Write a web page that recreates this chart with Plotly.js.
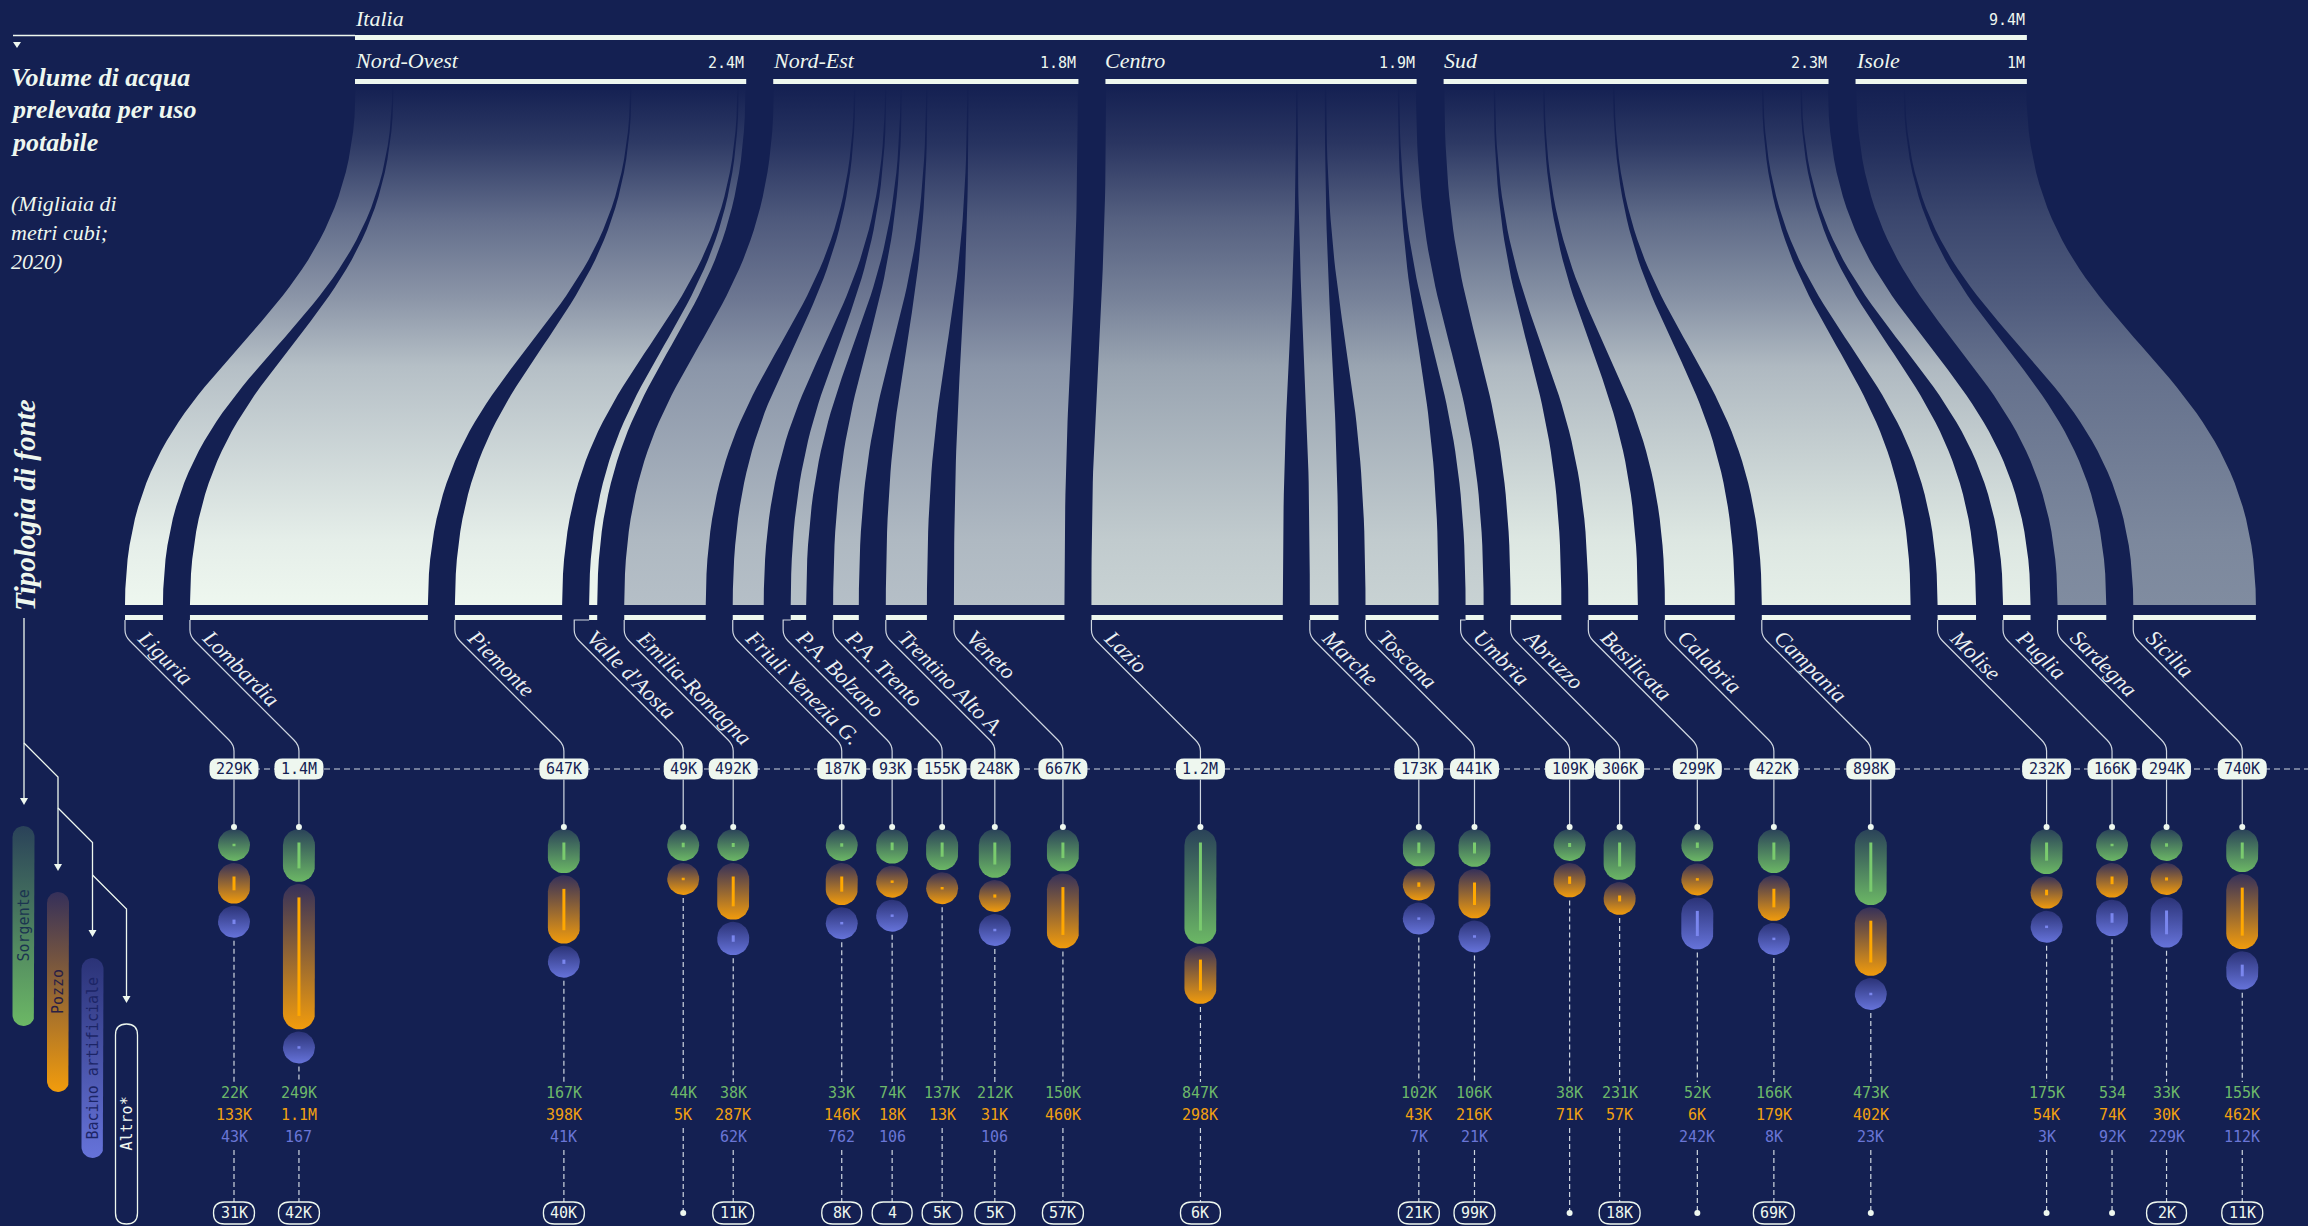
<!DOCTYPE html>
<html>
<head>
<meta charset="utf-8">
<script src="https://cdn.plot.ly/plotly-3.0.1.min.js"></script>
<style>
html,body{margin:0;padding:0;background:#142052;overflow:hidden;}
#chart{width:2308px;height:1226px;}
</style>
</head>
<body>
<div id="chart"></div>
<script>
// ---------------- DATA (migliaia di m3, 2020) ----------------
const regions = ['Liguria','Lombardia','Piemonte',"Valle d'Aosta",'Emilia-Romagna','Friuli Venezia G.','P.A. Bolzano','P.A. Trento','Trentino Alto A.','Veneto','Lazio','Marche','Toscana','Umbria','Abruzzo','Basilicata','Calabria','Campania','Molise','Puglia','Sardegna','Sicilia'];
const areaNames = ['Nord-Ovest','Nord-Est','Centro','Sud','Isole'];
const regionArea = [0,0,0,0,1,1,1,1,1,1,2,2,2,2,3,3,3,3,3,3,4,4];
const totals   = [229,1436,647,49,492,187,93,155,248,667,1155,173,441,109,306,299,422,898,232,166,294,740];
const sorgente = [22,249,167,44,38,33,74,137,212,150,847,102,106,38,231,52,166,473,175,0.534,33,155];
const pozzo    = [133,1140,398,5,287,146,18,13,31,460,298,43,216,71,57,6,179,402,54,74,30,462];
const bacino   = [43,0.167,41,0,62,0.762,0.106,0,0.106,0,0,7,21,0,0,242,8,23,3,92,229,112];
const altro    = [31,42,40,0,11,8,0.004,5,5,57,6,21,99,0,18,0,69,0,0,0,2,11];
const sourceLabels = ['Sorgente','Pozzo','Bacino artificiale','Altro*'];
const countryName = 'Italia';
const titleLines = ['Volume di acqua','prelevata per uso','potabile'];
const subtitleLines = ['(Migliaia di','metri cubi;','2020)'];
const legendTitle = 'Tipologia di fonte';

// ---------------- STYLE ----------------
const BG = '#142052';
const LIGHT = '#eef7ef';
const LINEC = '#cfd6e0';
const SERIF = 'Liberation Serif, DejaVu Serif, serif';
const MONO = 'DejaVu Sans Mono, Liberation Mono, monospace';
const areaColors = ['#eef7ef','#b5bfc7','#c8d2d3','#e5efe8','#808ca0'];
const capTop = ['#2a4259','#35305a','#2b3377'];
const capBot = ['#6cb865','#f29c0c','#6673da'];
const lineCol = ['#7acb6e','#ffa800','#7a86ee'];
const valCol = ['#6db86a','#f2a010','#6a76d6'];

const SCALE = 0.1657, GAP = 27;
const BOTTOM_X0 = 125, TOP_X0 = 355;
const RIB_TOP = 86, RIB_BOT = 605, Y_BB0 = 615, Y_BB = 620;
const Y_PILL = 769, Y_STACK = 829, Y_VALS = [1093,1115,1137], Y_ALTRO = 1213;
const OFF = 109, MINSEP = 50;

function fmt(v){
  if (v < 1) return String(Math.round(v*1000));
  if (v < 1000) return Math.round(v) + 'K';
  return (v/1000).toFixed(1).replace(/\.0$/,'') + 'M';
}
function hex2rgb(h){ h=h.replace('#',''); return [0,2,4].map(i=>parseInt(h.substr(i,2),16)); }
function mix(a,b,t){ const A=hex2rgb(a),B=hex2rgb(b); return 'rgb('+A.map((v,i)=>Math.round(v+(B[i]-v)*t)).join(',')+')'; }
function rrect(cx,cy,w,h,r){
  const x0=cx-w/2,x1=cx+w/2,y0=cy-h/2,y1=cy+h/2;
  return `M${x0+r},${y0} L${x1-r},${y0} Q${x1},${y0} ${x1},${y0+r} L${x1},${y1-r} Q${x1},${y1} ${x1-r},${y1} L${x0+r},${y1} Q${x0},${y1} ${x0},${y1-r} L${x0},${y0+r} Q${x0},${y0} ${x0+r},${y0} Z`;
}
function capsulePts(cx,y0,w,h){
  const r=w/2, xs=[], ys=[], yt=y0+r, yb=y0+h-r;
  for(let j=0;j<=18;j++){const a=Math.PI+Math.PI*j/18; xs.push(cx+r*Math.cos(a)); ys.push(yt+r*Math.sin(a));}
  for(let j=0;j<=18;j++){const a=Math.PI*j/18; xs.push(cx+r*Math.cos(a)); ys.push(yb+r*Math.sin(a));}
  xs.push(xs[0]); ys.push(ys[0]);
  return {xs,ys};
}

const n = regions.length;
const traces = [], shapes = [], ann = [];
function text(x,y,t,o){ ann.push(Object.assign({x,y,text:t,showarrow:false,xref:'x',yref:'y'},o)); }
function line(x0,y0,x1,y1,color,width,dash){ shapes.push({type:'line',xref:'x',yref:'y',x0,y0,x1,y1,line:{color,width,dash:dash||'solid'}}); }
function dot(x,y,r,color){ shapes.push({type:'circle',xref:'x',yref:'y',x0:x-r,x1:x+r,y0:y-r,y1:y+r,fillcolor:color,line:{width:0}}); }
function rect(x0,x1,y0,y1,color){ shapes.push({type:'rect',xref:'x',yref:'y',x0,x1,y0,y1,fillcolor:color,line:{width:0}}); }
function pathShape(p,fill,lc,lw){ shapes.push({type:'path',xref:'x',yref:'y',path:p,fillcolor:fill||'rgba(0,0,0,0)',line:{color:lc||'rgba(0,0,0,0)',width:lw||0}}); }

// ---------------- POSITIONS from values ----------------
const barLeft=[], barRight=[];
let cx = BOTTOM_X0;
for(let i=0;i<n;i++){ barLeft[i]=cx; barRight[i]=cx+totals[i]*SCALE; cx=barRight[i]+GAP; }
const areaTotals = areaNames.map((a,k)=>totals.reduce((s,v,i)=>s+(regionArea[i]===k?v:0),0));
const areaLeft=[], areaRight=[];
let tx = TOP_X0;
for(let k=0;k<areaNames.length;k++){ areaLeft[k]=tx; areaRight[k]=tx+areaTotals[k]*SCALE; tx=areaRight[k]+GAP; }
const topLeft=[], topRight=[], curTop=areaLeft.slice();
for(let i=0;i<n;i++){ const k=regionArea[i]; topLeft[i]=curTop[k]; topRight[i]=curTop[k]+totals[i]*SCALE; curTop[k]=topRight[i]; }
const leadX = barLeft.slice();
for(let i=n-2;i>=0;i--){ if(leadX[i] > leadX[i+1]-MINSEP) leadX[i] = leadX[i+1]-MINSEP; }
const colX = leadX.map(x=>x+OFF);

// ---------------- RIBBONS ----------------
const gStops = [[0,0],[0.11,0.12],[0.255,0.36],[0.41,0.55],[0.54,0.74],[0.875,0.96],[1,1]];
for(let i=0;i<n;i++){
  const xs=[], ys=[], N=48;
  const L0=topLeft[i]+0.7, L1=barLeft[i], R0=topRight[i]-0.7, R1=barRight[i];
  for(let j=0;j<=N;j++){ const t=j/N; xs.push(L0+(L1-L0)*(3*t*t-2*t*t*t)); ys.push(RIB_TOP+(RIB_BOT-RIB_TOP)*(1.5*t*(1-t)+t*t*t)); }
  for(let j=N;j>=0;j--){ const t=j/N; xs.push(R0+(R1-R0)*(3*t*t-2*t*t*t)); ys.push(RIB_TOP+(RIB_BOT-RIB_TOP)*(1.5*t*(1-t)+t*t*t)); }
  const col = areaColors[regionArea[i]];
  traces.push({type:'scatter',mode:'lines',x:xs,y:ys,fill:'toself',line:{width:0,color:'rgba(0,0,0,0)'},
    fillgradient:{type:'vertical',start:RIB_TOP,stop:RIB_BOT,colorscale:gStops.map(s=>[s[0],mix(BG,col,s[1])])},hoverinfo:'skip'});
  rect(barLeft[i],barRight[i],Y_BB0,Y_BB,LIGHT);
}

// ---------------- TOP BARS ----------------
rect(areaLeft[0],areaRight[areaNames.length-1],35,40,LIGHT);
line(13,35.5,areaLeft[0],35.5,LIGHT,1.3);
pathShape('M13,42 L21,42 L17,48 Z',LIGHT);
text(areaLeft[0]-2,18,countryName,{xanchor:'left',yanchor:'middle',font:{family:SERIF,size:22,style:'italic',color:LIGHT}});
text(areaRight[areaNames.length-1],20,fmt(areaTotals.reduce((a,b)=>a+b,0)),{xanchor:'right',yanchor:'middle',font:{family:MONO,size:15,color:LIGHT}});
for(let k=0;k<areaNames.length;k++){
  rect(areaLeft[k],areaRight[k],79,84,LIGHT);
  text(areaLeft[k]-2,60,areaNames[k],{xanchor:'left',yanchor:'middle',font:{family:SERIF,size:22,style:'italic',color:LIGHT}});
  text(areaRight[k],63,fmt(areaTotals[k]),{xanchor:'right',yanchor:'middle',font:{family:MONO,size:15,color:LIGHT}});
}

// ---------------- LEADERS, LABELS, PILLS ----------------
line(colX[0],Y_PILL,2308,Y_PILL,LINEC,1.2,'6px,4px');
for(let i=0;i<n;i++){
  const lx=leadX[i], px=colX[i];
  const yd = 636 + (px-lx);
  let p = `M${barLeft[i]},${Y_BB} L${lx},${Y_BB} L${lx},630 Q${lx},636 ${lx+5},641 L${px-5},${yd-5} Q${px},${yd} ${px},${yd+6} L${px},${Y_PILL-10}`;
  pathShape(p,null,LINEC,1.2);
  text(lx+5,622,regions[i],{xanchor:'left',yanchor:'top',textangle:45,font:{family:SERIF,size:22,style:'italic',color:'#eaeff1'}});
  const lab = fmt(totals[i]);
  const w = lab.length*10+9;
  pathShape(rrect(px,Y_PILL,w,21,8),LIGHT);
  text(px,Y_PILL,lab,{xanchor:'center',yanchor:'middle',font:{family:MONO,size:15,color:BG}});
  line(px,Y_PILL+10.5,px,Y_STACK-2,LINEC,1.2);
  dot(px,Y_STACK-2,3,LIGHT);

  const vals=[sorgente[i],pozzo[i],bacino[i]];
  let yc = Y_STACK, lastRow=-1;
  for(let s=0;s<3;s++){
    const v=vals[s]; if(!(v>0)) continue;
    lastRow=s;
    const len=v*0.104, h=Math.max(32,len+27);
    const c=capsulePts(px,yc,32,h);
    traces.push({type:'scatter',mode:'lines',x:c.xs,y:c.ys,fill:'toself',line:{width:0,color:'rgba(0,0,0,0)'},
      fillgradient:{type:'vertical',start:yc,stop:yc+h,colorscale:[[0,capTop[s]],[1,capBot[s]]]},hoverinfo:'skip'});
    const ll=Math.max(2.5,len), ym=yc+h/2;
    line(px,ym-ll/2,px,ym+ll/2,lineCol[s],3);
    text(px,Y_VALS[s],fmt(v),{xanchor:'center',yanchor:'middle',font:{family:MONO,size:15,color:valCol[s]}});
    yc += h+2;
  }
  line(px,yc+1,px,1082,LINEC,1.2,'5px,3px');
  const yStart = Y_VALS[lastRow]+13;
  if(altro[i]>0){
    line(px,yStart,px,Y_ALTRO-11,LINEC,1.2,'5px,3px');
    const al=fmt(altro[i]);
    pathShape(rrect(px,Y_ALTRO,Math.max(40,al.length*9+14),22,11),null,LIGHT,1.3);
    text(px,Y_ALTRO,al,{xanchor:'center',yanchor:'middle',font:{family:MONO,size:15,color:LIGHT}});
  } else {
    line(px,yStart,px,Y_ALTRO,LINEC,1.2,'5px,3px');
    dot(px,Y_ALTRO,3,LIGHT);
  }
}

// ---------------- TITLES ----------------
const titleY=[77,109.5,142];
titleLines.forEach((t,j)=>text(9,titleY[j],t,{xanchor:'left',yanchor:'middle',font:{family:SERIF,size:26,style:'italic',weight:'bold',color:LIGHT}}));
const subY=[203,232,261];
subtitleLines.forEach((t,j)=>text(9,subY[j],t,{xanchor:'left',yanchor:'middle',font:{family:SERIF,size:22,style:'italic',color:LIGHT}}));
text(25,505,legendTitle,{xanchor:'center',yanchor:'middle',textangle:-90,font:{family:SERIF,size:29,style:'italic',weight:'bold',color:LIGHT}});

// ---------------- LEGEND ----------------
line(24,618,24,800,LIGHT,1.3);
pathShape('M20,798 L28,798 L24,805 Z',LIGHT);
const legX=[23.5,58,92.5,126.5], legY=[826,892,958,1024];
const branchY=[743,808,875];
for(let s=1;s<4;s++){
  const x0=legX[s-1]+(s===1?0.5:0), xb=legX[s];
  const yb=branchY[s-1];
  pathShape(`M${x0},${yb} L${xb},${yb+(xb-x0)} L${xb},${legY[s]-26}`,null,LIGHT,1.3);
  pathShape(`M${xb-4},${legY[s]-28} L${xb+4},${legY[s]-28} L${xb},${legY[s]-21} Z`,LIGHT);
}
const legTxtCol=['#1b3450','#2a1f45','#1c2566',LIGHT];
for(let s=0;s<4;s++){
  const c=capsulePts(legX[s],legY[s],22,200);
  if(s<3){
    traces.push({type:'scatter',mode:'lines',x:c.xs,y:c.ys,fill:'toself',line:{width:0,color:'rgba(0,0,0,0)'},
      fillgradient:{type:'vertical',start:legY[s],stop:legY[s]+200,colorscale:[[0,capTop[s]],[1,capBot[s]]]},hoverinfo:'skip'});
  } else {
    pathShape(rrect(legX[s],legY[s]+100,22,200,11),null,LIGHT,1.3);
  }
  text(legX[s],legY[s]+100,sourceLabels[s],{xanchor:'center',yanchor:'middle',textangle:-90,font:{family:MONO,size:15,color:legTxtCol[s]}});
}

const layout = {
  width:2308,height:1226,margin:{l:0,r:0,t:0,b:0},
  paper_bgcolor:BG,plot_bgcolor:BG,showlegend:false,hovermode:false,
  xaxis:{range:[0,2308],visible:false,fixedrange:true},
  yaxis:{range:[1226,0],visible:false,fixedrange:true},
  shapes:shapes,annotations:ann
};
Plotly.newPlot('chart',traces,layout,{staticPlot:true,displayModeBar:false});
</script>
</body>
</html>
